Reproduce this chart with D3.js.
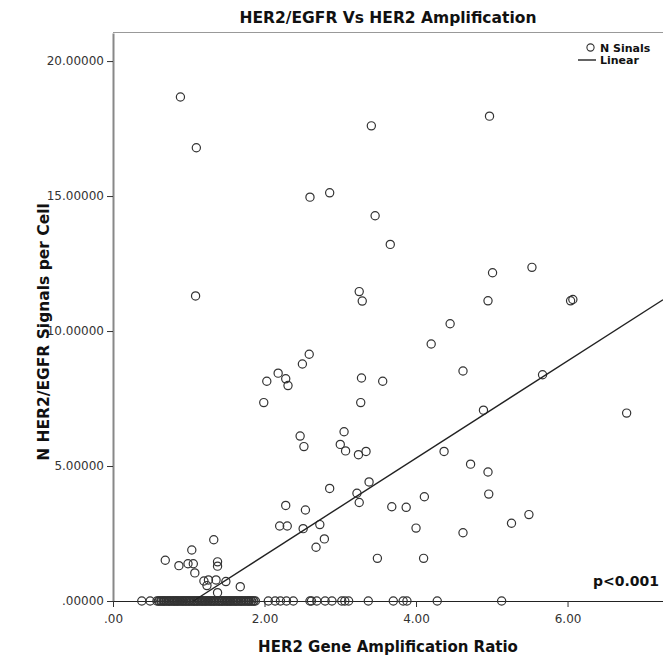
<!DOCTYPE html>
<html>
<head>
<meta charset="utf-8">
<script src="https://cdn.jsdelivr.net/npm/d3@7"></script>
<style>
  body { margin: 0; background: #fff; }
  svg { display: block; }
</style>
</head>
<body>
<svg id="svg" width="663" height="656"></svg>
<script>
// points above zero: [ratio, signals]
const ratio = [0.89, 1.10, 1.09, 2.60, 2.86, 3.41, 3.46, 3.25, 3.29, 4.97, 3.66, 5.01, 5.53, 4.95, 6.04, 6.07,
  2.59, 2.50, 2.18, 2.03, 2.28, 2.31, 1.99, 3.28, 3.27, 3.56, 2.47, 2.52, 3.05, 3.00, 3.07, 3.24, 3.34,
  3.38, 2.86, 3.22, 3.25, 2.28, 2.54, 2.20, 2.30, 2.51, 2.73, 4.45, 4.20, 4.62, 5.67, 4.89, 6.78, 4.37,
  4.72, 4.95, 4.96, 3.68, 3.87, 4.11, 5.49, 5.26, 4.00, 4.62, 3.49, 4.10, 2.68, 2.79, 0.69, 0.87, 0.99,
  1.06, 1.04, 1.08, 1.33, 1.38, 1.38, 1.20, 1.26, 1.36, 1.49, 1.24, 1.68, 1.38]
const signals = [18.67, 16.79, 11.30, 14.96, 15.12, 17.60, 14.27, 11.46, 11.11, 17.96, 13.21, 12.16, 12.36, 11.12, 11.12, 11.17,
  9.14, 8.78, 8.44, 8.14, 8.23, 7.98, 7.35, 8.26, 7.35, 8.14, 6.11, 5.72, 6.27, 5.80, 5.56, 5.42, 5.54,
  4.41, 4.17, 3.99, 3.65, 3.54, 3.37, 2.78, 2.78, 2.68, 2.83, 10.27, 9.52, 8.52, 8.38, 7.07, 6.96, 5.54,
  5.07, 4.78, 3.96, 3.49, 3.47, 3.86, 3.20, 2.88, 2.70, 2.53, 1.58, 1.58, 1.99, 2.30, 1.51, 1.31, 1.38,
  1.38, 1.89, 1.04, 2.27, 1.45, 1.29, 0.74, 0.78, 0.78, 0.72, 0.57, 0.53, 0.31]
// ratios of cases with zero signals
const zeroRatio = [0.38, 0.49, 0.58, 0.60, 0.61, 0.63, 0.64, 0.66, 0.67, 0.68, 0.70, 0.71, 0.73, 0.74, 0.75,
  0.77, 0.78, 0.80, 0.81, 0.82, 0.84, 0.85, 0.86, 0.88, 0.89, 0.91, 0.92, 0.93, 0.95, 0.96, 0.97, 0.99,
  1.00, 1.01, 1.03, 1.04, 1.06, 1.07, 1.08, 1.10, 1.11, 1.12, 1.14, 1.15, 1.17, 1.18, 1.19, 1.21, 1.22,
  1.23, 1.25, 1.26, 1.28, 1.29, 1.30, 1.32, 1.33, 1.34, 1.36, 1.37, 1.39, 1.40, 1.41, 1.43, 1.44, 1.45,
  1.47, 1.48, 1.50, 1.51, 1.52, 1.54, 1.55, 1.56, 1.58, 1.59, 1.61, 1.62, 1.63, 1.65, 1.66, 1.68, 1.69,
  1.70, 1.72, 1.73, 1.75, 1.76, 1.78, 1.79, 1.80, 1.82, 1.83, 1.85, 1.86, 1.88, 2.05, 2.14, 2.21, 2.29,
  2.38, 2.60, 2.62, 2.69, 2.80, 2.89, 3.02, 3.06, 3.11, 3.37, 3.70, 3.83, 3.88, 4.28, 5.13]

const fitIntercept = -1.91
const fitSlope = 1.80

const xTicks = [0, 2, 4, 6]
const yTicks = [0, 5, 10, 15, 20]
const legendLabels = ["N Sinals", "Linear"]

const svg = d3.select("#svg")
const bold = "'DejaVu Sans', sans-serif"

const x = d3.scaleLinear().domain([0, 7.26]).range([113, 663])
const y = d3.scaleLinear().domain([0, 21.04]).range([601, 33])

const points = ratio.map((r, i) => ({ r: r, s: signals[i] }))
  .concat(zeroRatio.map(r => ({ r: r, s: 0 })))

// frame
svg.append("line")
  .attr("x1", 113).attr("x2", 663).attr("y1", 32.5).attr("y2", 32.5)
  .attr("stroke", "#999").attr("stroke-width", 1)

// axes
const fmt = d => d3.format(".5f")(d).replace(/^0\./, ".")
const yAxis = svg.append("g")
  .attr("transform", "translate(113,0)")
  .call(d3.axisLeft(y).tickValues(yTicks).tickFormat(fmt).tickSize(6).tickSizeOuter(0))
yAxis.select(".domain").attr("stroke", "#888").attr("stroke-width", 2)
yAxis.selectAll(".tick line").attr("stroke", "#333")
yAxis.selectAll(".tick text")
  .attr("x", -9)
  .attr("font-family", "'DejaVu Sans', sans-serif")
  .attr("font-size", 12)
  .attr("fill", "#333")

const xAxis = svg.append("g")
  .attr("transform", "translate(0,601)")
  .call(d3.axisBottom(x).tickValues(xTicks).tickFormat(d => d3.format(".2f")(d).replace(/^0\./, "."))
    .tickSize(6).tickSizeOuter(0))
xAxis.select(".domain").attr("stroke", "#222").attr("stroke-width", 1)
xAxis.selectAll(".tick line").attr("stroke", "#333")
xAxis.selectAll(".tick text")
  .attr("y", 13)
  .attr("font-family", "'DejaVu Sans', sans-serif")
  .attr("font-size", 12)
  .attr("fill", "#333")

// points
svg.append("g")
  .selectAll("circle")
  .data(points)
  .join("circle")
  .attr("cx", d => x(d.r))
  .attr("cy", d => y(d.s))
  .attr("r", 4.1)
  .attr("fill", "none")
  .attr("stroke", "#333")
  .attr("stroke-width", 1.2)

// fit line, clipped at y = 0
const xStart = -fitIntercept / fitSlope
const xEnd = x.domain()[1]
svg.append("line")
  .attr("x1", x(xStart)).attr("y1", y(fitIntercept + fitSlope * xStart))
  .attr("x2", x(xEnd)).attr("y2", y(fitIntercept + fitSlope * xEnd))
  .attr("stroke", "#222").attr("stroke-width", 1.4)

// titles
svg.append("text")
  .attr("x", 388).attr("y", 23)
  .attr("text-anchor", "middle")
  .attr("font-family", bold).attr("font-weight", "bold").attr("font-size", 15.5)
  .attr("fill", "#111")
  .text("HER2/EGFR Vs HER2 Amplification")

svg.append("text")
  .attr("x", 388).attr("y", 652)
  .attr("text-anchor", "middle")
  .attr("font-family", bold).attr("font-weight", "bold").attr("font-size", 15)
  .attr("fill", "#111")
  .text("HER2 Gene Amplification Ratio")

svg.append("text")
  .attr("transform", "translate(49,332) rotate(-90)")
  .attr("text-anchor", "middle")
  .attr("font-family", bold).attr("font-weight", "bold").attr("font-size", 15.5)
  .attr("fill", "#111")
  .text("N HER2/EGFR Signals per Cell")

// legend
const legend = svg.append("g")
legend.append("circle")
  .attr("cx", 590.5).attr("cy", 47.5).attr("r", 3.6)
  .attr("fill", "none").attr("stroke", "#333").attr("stroke-width", 1.1)
legend.append("line")
  .attr("x1", 578).attr("x2", 596).attr("y1", 60).attr("y2", 60)
  .attr("stroke", "#222").attr("stroke-width", 1.4)
legend.selectAll("text")
  .data(legendLabels)
  .join("text")
  .attr("x", 600)
  .attr("y", (d, i) => 51.5 + i * 12.5)
  .attr("font-family", bold).attr("font-weight", "bold").attr("font-size", 11)
  .attr("fill", "#111")
  .text(d => d)

svg.append("text")
  .attr("x", 659).attr("y", 586)
  .attr("text-anchor", "end")
  .attr("font-family", bold).attr("font-weight", "bold").attr("font-size", 14)
  .attr("fill", "#111")
  .text("p<0.001")
</script>
</body>
</html>
